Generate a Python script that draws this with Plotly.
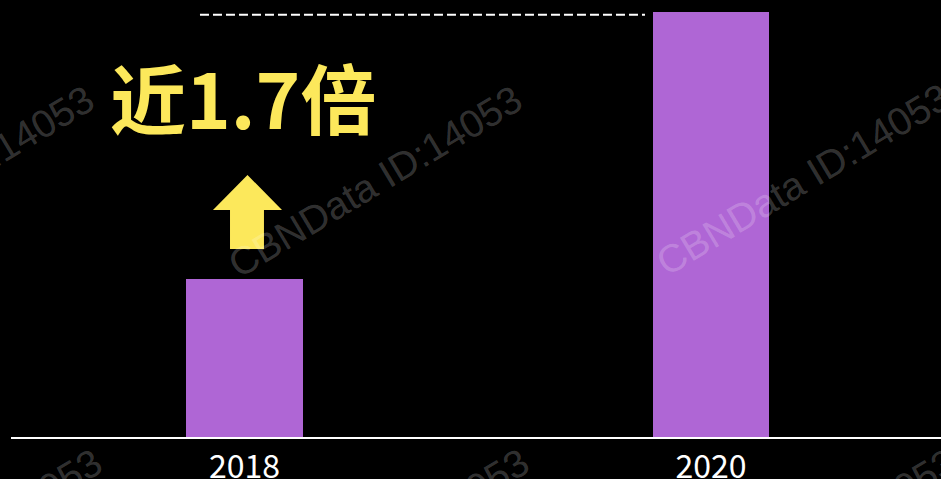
"""Bar chart: 2018 vs 2020, growth of nearly 1.7x"""

import plotly.graph_objects as go

YEARS = ["2018", "2020"]
VALUES = [1.0, 2.69]
GROWTH_LABEL = "近1.7倍"
REF_LEVEL = 2.672  # dashed reference line at the 2020 level
WATERMARK = "CBNData ID:14053"

BAR_COLOR = "#AF66D5"
YELLOW = "#FCE85B"

fig = go.Figure()
fig.add_trace(
    go.Bar(
        x=YEARS,
        y=VALUES,
        width=0.25,
        marker=dict(color=BAR_COLOR, line=dict(width=0)),
        hoverinfo="skip",
    )
)

# Dashed reference line from the 2018 side up to the 2020 bar
fig.add_shape(
    type="line",
    xref="paper",
    yref="y",
    x0=0.2032,
    x1=0.6817,
    y0=REF_LEVEL,
    y1=REF_LEVEL,
    line=dict(color="white", width=2, dash="9px,4px"),
)

# Yellow up arrow above the 2018 bar
fig.add_shape(
    type="path",
    xref="paper",
    yref="paper",
    path=(
        "M 0.2543 0.5995 L 0.2914 0.5195 L 0.2720 0.5195 L 0.2720 0.4302 "
        "L 0.2355 0.4302 L 0.2355 0.5195 L 0.2172 0.5195 Z"
    ),
    fillcolor=YELLOW,
    line=dict(width=0),
    layer="above",
)

fig.add_annotation(
    text=f"<b>{GROWTH_LABEL}</b>",
    xref="paper",
    yref="paper",
    x=0.2495,
    y=0.780,
    xanchor="center",
    yanchor="middle",
    showarrow=False,
    font=dict(family="Noto Sans CJK SC", size=76, color=YELLOW),
)

# Watermarks on top of everything
for wx, wy in [(-0.0688, 0.585), (0.3914, 0.585), (0.8516, 0.590),
               (-0.0600, -0.246), (0.3990, -0.246), (0.8590, -0.246)]:
    fig.add_annotation(
        text=WATERMARK,
        xref="paper",
        yref="paper",
        x=wx,
        y=wy,
        xanchor="center",
        yanchor="middle",
        showarrow=False,
        textangle=-31,
        font=dict(family="Liberation Sans", size=39, color="rgba(255,255,255,0.21)"),
    )

fig.update_layout(
    width=941,
    height=479,
    margin=dict(l=11, r=0, t=0, b=42),
    paper_bgcolor="black",
    plot_bgcolor="black",
    showlegend=False,
    bargap=0,
    xaxis=dict(
        type="category",
        range=[-0.5005, 1.493],
        automargin=False,
        showline=True,
        linecolor="white",
        linewidth=2,
        showgrid=False,
        zeroline=False,
        ticks="",
        ticklabelstandoff=1,
        tickfont=dict(family="Noto Sans CJK SC", size=32, color="white"),
    ),
    yaxis=dict(
        range=[0, 2.766],
        visible=False,
        automargin=False,
        showgrid=False,
        zeroline=False,
    ),
)

# drop the default page margin so the chart sits at the window corner
fig.write_html(
    "out.html",
    config={"displayModeBar": False},
    post_script="document.body.style.margin = '0';",
)
